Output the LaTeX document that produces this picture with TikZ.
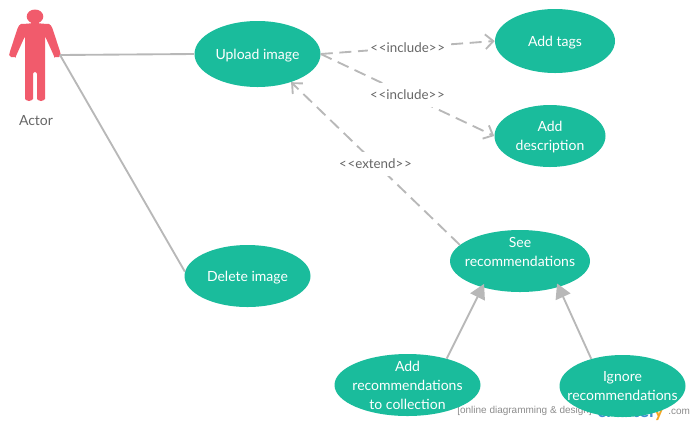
\documentclass[tikz,border=0pt]{standalone}
\usepackage{fontspec}
\setmainfont{Lato}
\newfontfamily\markfont{Liberation Sans}
\usetikzlibrary{positioning, arrows.meta, shapes.geometric}
\definecolor{casegreen}{HTML}{1ABC9C}
\definecolor{actorred}{HTML}{F15B6C}
\definecolor{linegray}{HTML}{B8B8B8}
\definecolor{labelgray}{HTML}{666666}
\definecolor{logoblue}{HTML}{3E8FD0}
\definecolor{logoorange}{HTML}{F5A623}
\newcommand{\incl}{<\kern0.6pt<include>\kern0.6pt>}
\newcommand{\extd}{<\kern0.6pt<extend>\kern0.6pt>}
\tikzset{
  usecase/.style={ellipse, fill=casegreen, text=white, inner sep=-8pt, text depth=0pt, align=center, font=\fontsize{10.5}{14.25}\selectfont},
  assoc/.style={draw=linegray, line width=1.4pt},
  depends/.style={assoc, dash pattern=on 9pt off 5pt, -{Straight Barb[length=6pt, width=11pt, line width=1.4pt]}},
  inherits/.style={assoc, shorten >=-3pt, -{Triangle[length=11pt, width=12pt, fill=linegray]}},
  stereo/.style={fill=white, text=labelgray, inner sep=2pt, minimum height=18pt, font=\fontsize{10}{12}\selectfont},
  watermark/.style={text=black!45, inner sep=0pt, font=\markfont\fontsize{7.5}{9}\selectfont},
}

\begin{document}
\begin{tikzpicture}[x=0.75pt, y=-0.75pt]
\useasboundingbox (0,0) rectangle (695,426);

% watermark sits under the cases
\node[watermark, anchor=west] (online) at (457,410.5) {[online diagramming \& design]};
\node[inner sep=0pt, text=logoblue, anchor=base west, font=\bfseries\fontsize{14}{15}\selectfont] (logo) at (597,417) {createl\textcolor{logoorange}{y}};
\node[watermark, anchor=west] (dotcom) at (668,411.5) {.com};

% actor
\fill[actorred, rounded corners=1.5pt] (35,23) -- (47,24) to[out=0,in=110] (53,30) -- (60.5,53) to[out=-80,in=0] (57,57) to[out=180,in=-70] (54,56) -- (45,36) -- (45,97) arc[start angle=0, end angle=180, radius=4] -- (37,72) -- (33,72) -- (33,97) arc[start angle=0, end angle=180, radius=4] -- (25,36) -- (16,56) to[out=-110,in=0] (13,57) to[out=180,in=-100] (9.5,53) -- (17,30) to[out=70,in=180] (23,24) -- cycle;
\fill[actorred] (35,16.5) ellipse[x radius=8.3, y radius=7];
\fill[actorred] (31,20) rectangle (39,25);
\coordinate (hand) at (60,55);
\node[text=labelgray, font=\fontsize{10.5}{12}\selectfont] (actor) at (36,121) {Actor};

% use cases
\node[usecase, minimum width=94.5pt, minimum height=49.5pt] (upload) at (257.5,54) {Upload image};
\node[usecase, minimum width=90pt, minimum height=48pt] (tags) at (555,41) {Add tags};
\node[usecase, minimum width=83.25pt, minimum height=46.5pt] (descr) at (550,136) {Add\\description};
\node[usecase, minimum width=105pt, minimum height=46.5pt] (seerec) at (520,261) {See\\recommendations\\\mbox{}};
\node[usecase, minimum width=94.5pt, minimum height=46.5pt] (delete) at (247.5,276) {Delete image};
\node[usecase, minimum width=109.5pt, minimum height=46.5pt] (addrec) at (407.5,385) {Add\\recommendations\\to collection};
\node[usecase, minimum width=94.5pt, minimum height=46.5pt] (ignore) at (622.5,386) {Ignore\\recommendations};

% connectors
\draw[assoc] (hand) -- (upload.west);
\draw[assoc] (hand) -- (delete.176);

\draw[depends] (upload.east) -- node[stereo] (inc1) {\incl} (tags.west);
\draw[depends] (upload.east) -- node[stereo] (inc2) {\incl} (descr.west);
\draw[depends] (seerec.165) -- node[stereo] (ext) {\extd} (upload.-40);

\draw[inherits] (addrec.34) -- (seerec.-145);
\draw[inherits] (ignore.139) -- (seerec.-34);

\end{tikzpicture}
\end{document}
